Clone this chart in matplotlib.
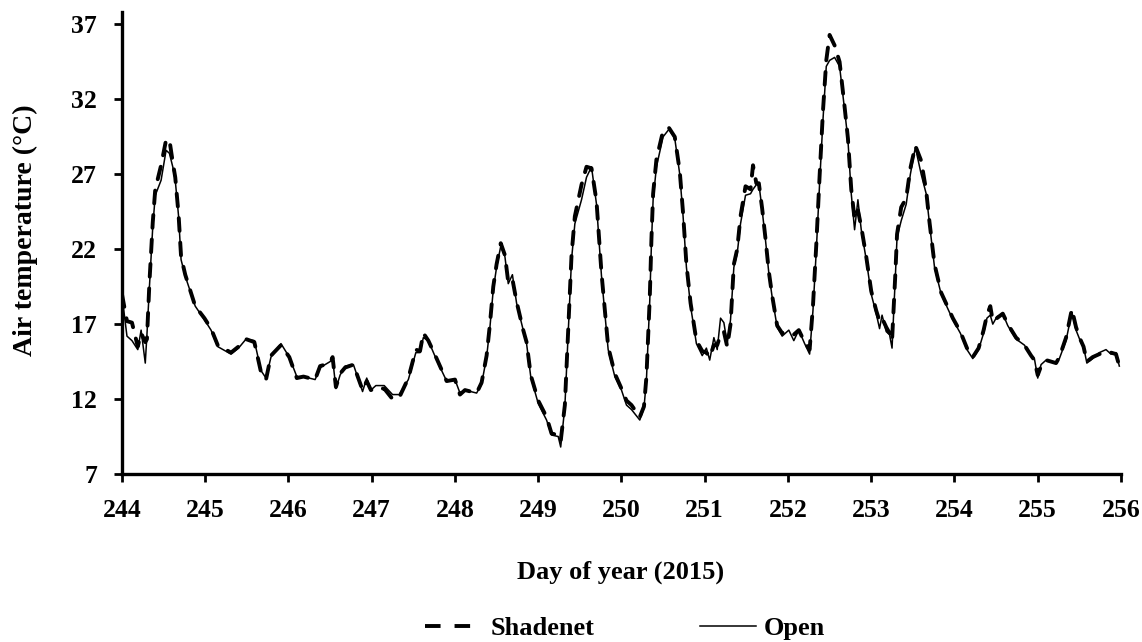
import matplotlib
matplotlib.use("Agg")
import matplotlib.pyplot as plt
from matplotlib.lines import Line2D

plt.rcParams['font.family'] = ['Liberation Serif', 'DejaVu Serif']
plt.rcParams['font.weight'] = 'bold'

days = [244.00, 244.06, 244.12, 244.19, 244.23, 244.28, 244.30, 244.33, 244.37, 244.40,
        244.47, 244.53, 244.57, 244.61, 244.64, 244.68, 244.71, 244.76, 244.88, 244.99,
        245.07, 245.15, 245.31, 245.40, 245.49, 245.59, 245.67, 245.73, 245.79, 245.91,
        246.01, 246.10, 246.18, 246.32, 246.38, 246.50, 246.53, 246.57, 246.62, 246.68,
        246.78, 246.89, 246.94, 246.99, 247.05, 247.15, 247.25, 247.33, 247.44, 247.53,
        247.58, 247.62, 247.68, 247.78, 247.90, 248.00, 248.06, 248.12, 248.26, 248.32,
        248.38, 248.42, 248.46, 248.50, 248.55, 248.60, 248.64, 248.69, 248.74, 248.82,
        248.86, 248.91, 249.00, 249.10, 249.16, 249.24, 249.27, 249.32, 249.36, 249.40,
        249.44, 249.52, 249.58, 249.64, 249.70, 249.76, 249.84, 249.92, 250.00, 250.06,
        250.12, 250.22, 250.27, 250.30, 250.34, 250.36, 250.38, 250.42, 250.50, 250.57,
        250.64, 250.70, 250.74, 250.78, 250.83, 250.90, 250.97, 251.02, 251.06, 251.11,
        251.15, 251.19, 251.23, 251.27, 251.31, 251.35, 251.39, 251.43, 251.49, 251.55,
        251.58, 251.62, 251.65, 251.69, 251.73, 251.77, 251.81, 251.87, 251.93, 252.01,
        252.07, 252.13, 252.20, 252.26, 252.30, 252.34, 252.38, 252.42, 252.46, 252.50,
        252.56, 252.62, 252.68, 252.72, 252.76, 252.80, 252.84, 252.88, 252.94, 253.00,
        253.06, 253.10, 253.13, 253.18, 253.22, 253.25, 253.29, 253.31, 253.36, 253.42,
        253.47, 253.53, 253.60, 253.66, 253.70, 253.76, 253.84, 253.98, 254.07, 254.15,
        254.22, 254.29, 254.35, 254.39, 254.43, 254.46, 254.51, 254.58, 254.64, 254.74,
        254.84, 254.92, 254.96, 255.00, 255.04, 255.10, 255.22, 255.26, 255.34, 255.41,
        255.46, 255.51, 255.55, 255.59, 255.66, 255.74, 255.82, 255.88, 255.94, 255.98]

open_temp = [18.9, 16.2, 15.9, 15.3, 16.6, 14.4, 16.3, 19.5, 23.5, 25.6,
             26.6, 28.6, 28.4, 27.5, 26.6, 24.2, 21.3, 20.2, 18.2, 17.3,
             16.6, 15.5, 15.0, 15.4, 16.0, 15.9, 13.9, 13.4, 14.8, 15.7,
             14.8, 13.5, 13.5, 13.3, 14.1, 14.5, 14.7, 12.7, 13.6, 14.2,
             14.3, 12.5, 13.4, 12.6, 12.9, 12.9, 12.3, 12.3, 13.3, 15.1,
             15.1, 16.1, 15.9, 14.6, 13.2, 13.3, 12.4, 12.6, 12.4, 13.0,
             14.8, 16.8, 19.3, 20.8, 22.2, 21.5, 19.7, 20.3, 18.4, 16.6,
             15.7, 13.5, 11.7, 10.6, 9.6, 9.5, 8.8, 11.5, 16.4, 21.3,
             23.7, 25.3, 26.8, 27.5, 25.0, 20.2, 15.3, 13.5, 12.6, 11.6,
             11.3, 10.6, 11.4, 13.3, 18.6, 22.4, 25.3, 27.5, 29.5, 30.0,
             29.4, 27.0, 24.2, 20.8, 18.2, 15.7, 14.9, 15.4, 14.6, 16.1,
             15.3, 17.4, 17.1, 15.7, 17.3, 20.8, 21.7, 23.7, 25.6, 25.7,
             26.0, 26.3, 26.4, 24.6, 22.6, 20.4, 18.8, 16.8, 16.2, 16.6,
             15.9, 16.6, 15.7, 15.0, 17.9, 21.9, 26.4, 30.6, 34.2, 34.6,
             34.8, 34.2, 31.3, 29.3, 25.7, 23.3, 25.3, 23.3, 21.3, 19.0,
             17.7, 16.7, 17.6, 16.5, 16.3, 15.4, 20.2, 22.8, 23.9, 25.0,
             27.0, 28.8, 27.0, 25.7, 23.7, 20.8, 19.0, 17.3, 16.4, 15.3,
             14.7, 15.3, 16.4, 17.4, 17.6, 17.0, 17.5, 17.7, 16.9, 16.0,
             15.6, 14.9, 14.7, 13.4, 14.3, 14.6, 14.4, 14.7, 15.9, 17.8,
             16.6, 15.9, 15.5, 14.4, 14.7, 15.1, 15.3, 15.0, 15.1, 14.2]

shade_temp = [19.0, 17.2, 17.1, 15.5, 16.4, 15.8, 16.0, 19.8, 23.8, 26.0,
              27.6, 29.3, 29.3, 27.8, 26.8, 24.3, 21.5, 20.3, 18.2, 17.4,
              16.7, 15.6, 15.1, 15.5, 16.0, 15.8, 13.8, 13.3, 14.9, 15.6,
              14.8, 13.4, 13.5, 13.3, 14.2, 14.4, 14.8, 12.8, 13.7, 14.1,
              14.3, 12.6, 13.2, 12.6, 12.7, 12.7, 12.0, 12.1, 13.4, 15.3,
              15.2, 16.4, 15.9, 14.7, 13.2, 13.3, 12.3, 12.6, 12.4, 13.1,
              14.9, 17.0, 19.5, 21.0, 22.4, 21.6, 19.8, 20.0, 18.5, 16.6,
              15.8, 13.6, 11.9, 10.8, 9.7, 9.6, 9.2, 11.6, 16.6, 21.6,
              24.2, 26.3, 27.5, 27.4, 25.2, 20.4, 15.5, 13.7, 12.7, 11.9,
              11.6, 10.8, 11.5, 13.5, 18.8, 22.7, 25.7, 28.0, 29.9, 30.1,
              29.5, 27.2, 24.4, 21.0, 18.4, 15.9, 15.2, 15.1, 14.8, 15.6,
              15.6, 16.3, 16.5, 15.5, 17.0, 21.0, 22.0, 24.2, 26.2, 26.0,
              27.6, 26.4, 26.4, 24.7, 22.7, 20.5, 18.9, 16.9, 16.4, 16.4,
              16.3, 16.6, 15.8, 15.3, 18.2, 22.3, 26.9, 31.2, 34.6, 36.3,
              35.6, 34.5, 31.5, 29.4, 26.0, 24.0, 24.6, 23.5, 21.5, 19.2,
              17.9, 17.2, 17.4, 16.8, 16.4, 15.9, 20.4, 23.0, 24.8, 25.4,
              27.4, 28.9, 27.9, 25.9, 23.8, 21.0, 19.1, 17.4, 16.5, 15.4,
              14.8, 15.4, 16.6, 17.6, 18.2, 17.2, 17.4, 17.7, 17.0, 16.1,
              15.6, 14.9, 14.6, 13.6, 14.2, 14.6, 14.4, 14.8, 16.1, 18.0,
              16.8, 16.0, 15.5, 14.5, 14.8, 15.0, 15.1, 15.1, 15.0, 14.2]

x_ticks = list(range(244, 257))
y_ticks = [7, 12, 17, 22, 27, 32, 37]

fig = plt.figure(figsize=(11.42, 6.42), dpi=100)
ax = fig.add_axes([0.1068, 0.2617, 0.8748, 0.7201])

ax.plot(days, shade_temp, color='black', linewidth=2.8, linestyle=(0, (3.3, 3.0)),
        dash_capstyle='round', label='Shadenet')
ax.plot(days, open_temp, color='black', linewidth=1.1, label='Open')

ax.set_xlim(244, 256)
ax.set_ylim(7, 37.85)
ax.set_xticks(x_ticks)
ax.set_yticks(y_ticks)
ax.tick_params(axis='both', labelsize=18.5, width=2, length=6, direction='out', pad=12)
for lab in ax.get_xticklabels() + ax.get_yticklabels():
    lab.set_fontweight('bold')

for s in ['top', 'right']:
    ax.spines[s].set_visible(False)
for s in ['left', 'bottom']:
    ax.spines[s].set_linewidth(2.4)

fig.text(0.5438, 1 - 572 / 642, 'Day of year (2015)', fontsize=19, fontweight='bold',
         ha='center', va='center')
fig.text(25 / 1142, 1 - 230 / 642, 'Air temperature (°C)', fontsize=20, fontweight='bold',
         ha='center', va='center', rotation=90)

h_shade = Line2D([], [], color='black', linewidth=2.8, linestyle=(0, (4.0, 3.6)),
                 dash_capstyle='butt')
h_open = Line2D([], [], color='black', linewidth=1.1)
fig.legend([h_shade, h_open], ['Shadenet', 'Open'], loc='center',
           bbox_to_anchor=(0.5477, 0.0218), ncol=2, frameon=False,
           handlelength=2.15, columnspacing=4.0, handletextpad=0.3,
           prop={'weight': 'bold', 'size': 19})

fig.savefig('out.png', dpi=100)
